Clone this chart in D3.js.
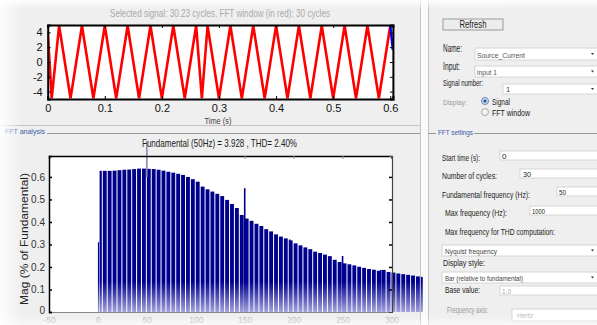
<!DOCTYPE html>
<html><head><meta charset="utf-8">
<script src="https://cdn.jsdelivr.net/npm/d3@7"></script>
<style>
html,body{margin:0;padding:0;background:#f0f0f0;overflow:hidden}
svg{display:block;font-family:"Liberation Sans",Arial,sans-serif}
</style></head><body><svg id="c" width="597" height="325"></svg>
<script>
// ---------------- data ----------------
const signalTitle = "Selected signal: 30.23 cycles. FFT window (in red): 30 cycles";
const timeLabel = "Time (s)";
// apparent extremes of the displayed (red) waveform
const signalTimes = [0, 0.007, 0.02, 0.04, 0.06, 0.08, 0.10, 0.12, 0.14, 0.16, 0.18, 0.20, 0.22, 0.24, 0.26, 0.27, 0.28, 0.30, 0.32, 0.34, 0.36, 0.38, 0.40, 0.42, 0.44, 0.46, 0.48, 0.50, 0.52, 0.54, 0.56, 0.58, 0.60];
const signalValues = [4.2, -4.9, 4.9, -4.9, 4.9, -4.9, 4.9, -4.9, 4.9, -4.9, 4.9, -4.9, 4.9, -4.9, 4.9, -4.9, 4.9, -4.9, 4.9, -4.9, 4.9, -4.9, 4.9, -4.9, 4.9, -4.9, 4.9, -4.9, 4.9, -4.9, 4.9, -4.9, 4.9];
const tailTimes = [0.6, 0.6046];
const tailValues = [4.9, 1.6];
const timeTicks = [0, 0.1, 0.2, 0.3, 0.4, 0.5, 0.6];
const timeTickLabels = ["0", "0.1", "0.2", "0.3", "0.4", "0.5", "0.6"];
const ampTicks = [4, 2, 0, -2, -4];
const ampTickLabels = ["4", "2", "0", "-2", "-4"];

const fftTitle = "Fundamental (50Hz) = 3.928 , THD= 2.40%";
const fftYLabel = "Mag (% of Fundamental)";
const freqHz = [0, 1.7, 5, 10, 15, 20, 25, 30, 35, 40, 45, 50, 55, 60, 65, 70, 75, 80, 85, 90, 95, 100,
  105, 110, 115, 120, 125, 130, 135, 140, 145, 150, 155, 160, 165, 170, 175, 180, 185, 190, 195, 200,
  205, 210, 215, 220, 225, 230, 235, 240, 245, 250, 255, 260, 265, 270, 275, 280, 285, 290, 295, 300,
  305, 310, 315, 320, 325, 330];
const magPct = [0.31, 0.627, 0.627, 0.627, 0.628, 0.630, 0.632, 0.633, 0.635, 0.637, 0.637, 0.636, 0.635, 0.632, 0.628, 0.623, 0.619, 0.614, 0.609, 0.600, 0.590, 0.579,
  0.557, 0.545, 0.535, 0.525, 0.515, 0.498, 0.480, 0.462, 0.431, 0.415, 0.405, 0.392, 0.382, 0.368, 0.358, 0.345, 0.335, 0.327, 0.318, 0.305,
  0.296, 0.287, 0.279, 0.268, 0.262, 0.255, 0.248, 0.232, 0.222, 0.216, 0.212, 0.207, 0.201, 0.196, 0.191, 0.188, 0.183, 0.187, 0.178, 0.175,
  0.171, 0.168, 0.165, 0.162, 0.158, 0.156];
const freqEnd = 333;
const spikeHz = [141.5, 150, 196, 250, 289];
const spikeMag = [0.462, 0.55, 0.322, 0.249, 0.187];
const fundamentalHz = 50;
const freqTicks = [-50, 0, 50, 100, 150, 200, 250, 300];
const freqTickLabels = ["-50", "0", "50", "100", "150", "200", "250", "300"];
const magTicks = [0, 0.1, 0.2, 0.3, 0.4, 0.5, 0.6];
const magTickLabels = ["0", "0.1", "0.2", "0.3", "0.4", "0.5", "0.6"];

// GUI texts
const settingsLabels = ["Start time (s):", "Number of cycles:", "Fundamental frequency (Hz):", "Max frequency (Hz):", "Max frequency for THD computation:", "Display style:", "Base value:", "Frequency axis:"];
const settingsValues = ["0", "30", "50", "1000", "Nyquist frequency", "Bar (relative to fundamental)", "1.0", "Hertz"];

// ---------------- drawing ----------------
const svg = d3.select("#c");
const defs = svg.append("defs");

svg.append("rect").attr("width", 597).attr("height", 325).attr("fill", "#efefef");

// panel separators
svg.append("line").attr("x1", 0).attr("x2", 420).attr("y1", 125.5).attr("y2", 125.5).attr("stroke", "#c4c4c4");
svg.append("rect").attr("x", 420).attr("y", 0).attr("width", 8).attr("height", 325).attr("fill", "#fafafa");
svg.append("line").attr("x1", 420.5).attr("x2", 420.5).attr("y1", 0).attr("y2", 325).attr("stroke", "#c4c4c4");
svg.append("line").attr("x1", 428.5).attr("x2", 428.5).attr("y1", 0).attr("y2", 325).attr("stroke", "#c4c4c4");

// ===== top signal chart =====
const xT = d3.scaleLinear().domain([0, 0.6046]).range([47.7, 392.9]);
const yT = d3.scaleLinear().domain([-5, 5]).range([99, 25]);
defs.append("clipPath").attr("id", "clipT").append("rect")
  .attr("x", 47.7).attr("y", 25).attr("width", 392.9 - 47.7).attr("height", 74);
svg.append("rect").attr("x", 47.7).attr("y", 25).attr("width", 392.9 - 47.7).attr("height", 74).attr("fill", "#fff");

const line = d3.line().x(d => xT(d[0])).y(d => yT(d[1]));
const gSig = svg.append("g").attr("clip-path", "url(#clipT)");
gSig.append("path").datum(d3.zip(signalTimes, signalValues))
  .attr("d", line).attr("fill", "none").attr("stroke", "#ff0000").attr("stroke-width", 2.6).attr("stroke-linejoin", "miter");
gSig.append("path").datum(d3.zip(tailTimes, tailValues))
  .attr("d", line).attr("fill", "none").attr("stroke", "#0000ff").attr("stroke-width", 2.5);

const axTB = svg.append("g").attr("transform", "translate(0,99)")
  .call(d3.axisBottom(xT).tickValues(timeTicks).tickFormat((d, i) => timeTickLabels[i]).tickSize(-3).tickPadding(5));
const axTT = svg.append("g").attr("transform", "translate(0,25)")
  .call(d3.axisTop(xT).tickValues(timeTicks).tickFormat("").tickSize(-3));
const axTL = svg.append("g").attr("transform", "translate(47.7,0)")
  .call(d3.axisLeft(yT).tickValues(ampTicks).tickFormat((d, i) => ampTickLabels[i]).tickSize(-3).tickPadding(5));
const axTR = svg.append("g").attr("transform", "translate(392.9,0)")
  .call(d3.axisRight(yT).tickValues(ampTicks).tickFormat("").tickSize(-3));
[axTB, axTT, axTL, axTR].forEach(a => {
  a.select(".domain").attr("stroke", "#000").attr("stroke-width", 2);
  a.selectAll(".tick line").attr("stroke", "#000");
  a.selectAll("text").attr("font-size", 11).attr("fill", "#111").attr("font-family", "Liberation Sans, Arial, sans-serif");
});
svg.append("text").attr("x", 220).attr("y", 17).attr("text-anchor", "middle")
  .attr("font-size", 11).attr("fill", "#aaa").attr("textLength", 220).attr("lengthAdjust", "spacingAndGlyphs").text(signalTitle);
svg.append("text").attr("x", 218).attr("y", 123.5).attr("text-anchor", "middle")
  .attr("font-size", 8.5).attr("fill", "#444").attr("textLength", 27).attr("lengthAdjust", "spacingAndGlyphs").text(timeLabel);

// ===== bottom FFT chart =====
const xB = d3.scaleLinear().domain([-50, 300]).range([49, 391.5]);
const yB = d3.scaleLinear().domain([0, 0.693]).range([312, 156]);
svg.append("rect").attr("x", 49).attr("y", 156).attr("width", 392 - 49).attr("height", 156).attr("fill", "#fff");

const grad = defs.append("linearGradient").attr("id", "barGrad").attr("gradientUnits", "userSpaceOnUse")
  .attr("x1", 0).attr("x2", 0).attr("y1", 156).attr("y2", 313);
grad.append("stop").attr("offset", "0%").attr("stop-color", "#00008a");
grad.append("stop").attr("offset", "80%").attr("stop-color", "#000090");
grad.append("stop").attr("offset", "100%").attr("stop-color", "#a8a8e0");

const bars = freqHz.map((f, i) => ({ f, m: magPct[i], next: i < freqHz.length - 1 ? freqHz[i + 1] : freqEnd }));
svg.append("g").selectAll("rect").data(bars).join("rect")
  .attr("x", d => xB(d.f))
  .attr("width", d => Math.max(1.2, xB(d.next) - xB(d.f) - 1))
  .attr("y", d => yB(d.m))
  .attr("height", d => yB(0) - yB(d.m))
  .attr("fill", "url(#barGrad)");
svg.append("g").selectAll("rect").data(d3.zip(spikeHz, spikeMag)).join("rect")
  .attr("x", d => xB(d[0]) - 0.8).attr("width", 1.6)
  .attr("y", d => yB(d[1])).attr("height", d => yB(0) - yB(d[1]))
  .attr("fill", "url(#barGrad)");
svg.append("line").attr("x1", xB(fundamentalHz)).attr("x2", xB(fundamentalHz))
  .attr("y1", 141).attr("y2", yB(0.6)).attr("stroke", "#8282b4").attr("stroke-width", 1.5);

const axBB = svg.append("g").attr("transform", "translate(0,312)")
  .call(d3.axisBottom(xB).tickValues(freqTicks).tickFormat((d, i) => freqTickLabels[i]).tickSize(0).tickPadding(5));
const axBL = svg.append("g").attr("transform", "translate(49,0)")
  .call(d3.axisLeft(yB).tickValues(magTicks).tickFormat((d, i) => magTickLabels[i]).tickSize(-3).tickPadding(4));
const axBT = svg.append("g").attr("transform", "translate(0,156)")
  .call(d3.axisTop(xB).tickValues(freqTicks.filter(v => v >= 150)).tickFormat("").tickSize(-3));
const axBR = svg.append("g").attr("transform", "translate(392,0)")
  .call(d3.axisRight(yB).tickValues(magTicks.filter(v => v > 0)).tickFormat("").tickSize(-3));
axBB.select(".domain").attr("stroke", "#888").attr("stroke-width", 1.2);
axBB.selectAll("text").attr("font-size", 8.5).attr("fill", "#b4b4b4");
axBL.select(".domain").attr("stroke", "#000").attr("stroke-width", 1.5);
axBL.selectAll(".tick line").attr("stroke", "#000").attr("stroke-width", 1.5);
axBL.selectAll("text").attr("font-size", 10).attr("fill", "#333");
axBL.selectAll(".tick").filter(d => d === 0).select("text").attr("dy", "0.1em");
axBT.select(".domain").attr("stroke", "#000").attr("stroke-width", 1.5);
axBT.selectAll(".tick line").attr("stroke", "#999");
axBR.select(".domain").attr("stroke", "#444").attr("stroke-width", 1.2);
axBR.selectAll(".tick line").attr("stroke", "#000").attr("stroke-width", 1.5);
[axBB, axBL, axBT, axBR].forEach(a => a.selectAll("text").attr("font-family", "Liberation Sans, Arial, sans-serif"));

svg.append("text").attr("x", 142).attr("y", 147).attr("font-size", 11).attr("fill", "#222")
  .attr("textLength", 155).attr("lengthAdjust", "spacingAndGlyphs").text(fftTitle);
svg.append("text").attr("transform", "translate(28,239) rotate(-90)").attr("text-anchor", "middle")
  .attr("font-size", 11).attr("fill", "#222").attr("textLength", 132).attr("lengthAdjust", "spacingAndGlyphs").text(fftYLabel);

svg.append("line").attr("x1", 47).attr("x2", 420).attr("y1", 133.5).attr("y2", 133.5).attr("stroke", "#999");
svg.append("text").attr("x", 5).attr("y", 134).attr("font-size", 8).attr("fill", "#3a5aa8")
  .attr("textLength", 40).attr("lengthAdjust", "spacingAndGlyphs").text("FFT analysis");

// ===== right GUI panels =====
const gui = svg.append("g").attr("font-size", 10).attr("fill", "#222");
function label(x, y, t, w, col, fs) {
  const e = gui.append("text").attr("x", x).attr("y", y).text(t);
  if (w) e.attr("textLength", w).attr("lengthAdjust", "spacingAndGlyphs");
  if (col) e.attr("fill", col);
  if (fs) e.attr("font-size", fs);
  return e;
}
function box(x, y, w, h, dd) {
  gui.append("rect").attr("x", x).attr("y", y).attr("width", w).attr("height", h).attr("fill", "#fff").attr("stroke", "#d6d6d6");
  if (dd) gui.append("path").attr("d", `M${591},${y + h / 2 - 1} l3,0 l-1.5,2 z`).attr("fill", "#333");
}
label(445, 6, "Available signals", 55, "#f6f6f6", 7);
gui.append("rect").attr("x", 443).attr("y", 19).attr("width", 60).attr("height", 11).attr("fill", "#ececec").attr("stroke", "#9a9a9a");
label(473, 28, "Refresh", 27).attr("text-anchor", "middle");
label(443, 52, "Name:", 19);
box(475, 48, 125, 12, true);
label(477, 58, "Source_Current", 48, "#555", 8);
label(443, 70, "Input:", 17);
box(475, 66, 125, 11, true);
label(477, 75, "input 1", 20, "#555", 8);
label(443, 86, "Signal number:", 40, null, 9);
box(503, 84, 97, 10, true);
label(506, 92, "1", 0, "#444", 7.5);
label(443, 105, "Display:", 24, "#999", 8);
gui.append("circle").attr("cx", 485).attr("cy", 101).attr("r", 3.5).attr("fill", "#cfe0f4").attr("stroke", "#6a86b8");
gui.append("circle").attr("cx", 485).attr("cy", 101).attr("r", 1.6).attr("fill", "#2a4f8f");
label(492, 105, "Signal", 18, null, 9);
gui.append("circle").attr("cx", 485).attr("cy", 112).attr("r", 3.5).attr("fill", "#f4f4f4").attr("stroke", "#aaa");
label(492, 115.5, "FFT window", 38, null, 9);

svg.append("line").attr("x1", 428).attr("x2", 436).attr("y1", 133.5).attr("y2", 133.5).attr("stroke", "#999");
svg.append("line").attr("x1", 474).attr("x2", 597).attr("y1", 133.5).attr("y2", 133.5).attr("stroke", "#999");
svg.append("text").attr("x", 438).attr("y", 135).attr("font-size", 8).attr("fill", "#3a5aa8")
  .attr("textLength", 35).attr("lengthAdjust", "spacingAndGlyphs").text("FFT settings");

label(442, 161, settingsLabels[0], 38, null, 9);
box(500, 151, 100, 9);
label(502, 159, settingsValues[0], 0, "#222", 8);
label(442, 179, settingsLabels[1], 55, null, 9);
box(520, 169, 80, 9);
label(523, 177, settingsValues[1], 8, "#222", 8);
label(442, 198, settingsLabels[2], 88, null, 9);
box(557, 187, 43, 9);
label(559, 195, settingsValues[2], 7, "#222", 8);
label(445, 216, settingsLabels[3], 62, null, 9);
box(530, 206, 70, 9);
label(532, 214, settingsValues[3], 13, "#222", 8);
label(445, 235, settingsLabels[4], 110, null, 9);
box(442, 245, 158, 11, true);
label(445, 254, settingsValues[4], 52, "#444", 7);
label(443, 266, settingsLabels[5], 42, null, 9);
box(442, 272, 158, 11, true);
label(445, 281, settingsValues[5], 78, "#444", 7);
label(445, 293, settingsLabels[6], 35, null, 9);
box(500, 286, 100, 9);
label(502, 294, settingsValues[6], 9, "#aaa", 8);
label(447, 313, settingsLabels[7], 41, "#999", 9);
box(512, 309, 88, 12);
label(517, 318, settingsValues[7], 16, "#bbb", 8);

// ===== soft light vignette of the screenshot =====
const vg = defs.append("linearGradient").attr("id", "vL").attr("x1", 0).attr("x2", 1).attr("y1", 0).attr("y2", 0);
vg.append("stop").attr("offset", "0%").attr("stop-color", "#fff").attr("stop-opacity", 0.9);
vg.append("stop").attr("offset", "100%").attr("stop-color", "#fff").attr("stop-opacity", 0);
svg.append("rect").attr("x", 0).attr("y", 0).attr("width", 22).attr("height", 325).attr("fill", "url(#vL)");
const vt = defs.append("linearGradient").attr("id", "vT").attr("x1", 0).attr("x2", 0).attr("y1", 0).attr("y2", 1);
vt.append("stop").attr("offset", "0%").attr("stop-color", "#fff").attr("stop-opacity", 0.95);
vt.append("stop").attr("offset", "100%").attr("stop-color", "#fff").attr("stop-opacity", 0);
svg.append("rect").attr("x", 0).attr("y", 0).attr("width", 597).attr("height", 9).attr("fill", "url(#vT)");
const vb = defs.append("linearGradient").attr("id", "vB").attr("x1", 0).attr("x2", 0).attr("y1", 0).attr("y2", 1);
vb.append("stop").attr("offset", "0%").attr("stop-color", "#fff").attr("stop-opacity", 0);
vb.append("stop").attr("offset", "100%").attr("stop-color", "#fff").attr("stop-opacity", 0.6);
svg.append("rect").attr("x", 0).attr("y", 316).attr("width", 597).attr("height", 9).attr("fill", "url(#vB)");
</script></body></html>
